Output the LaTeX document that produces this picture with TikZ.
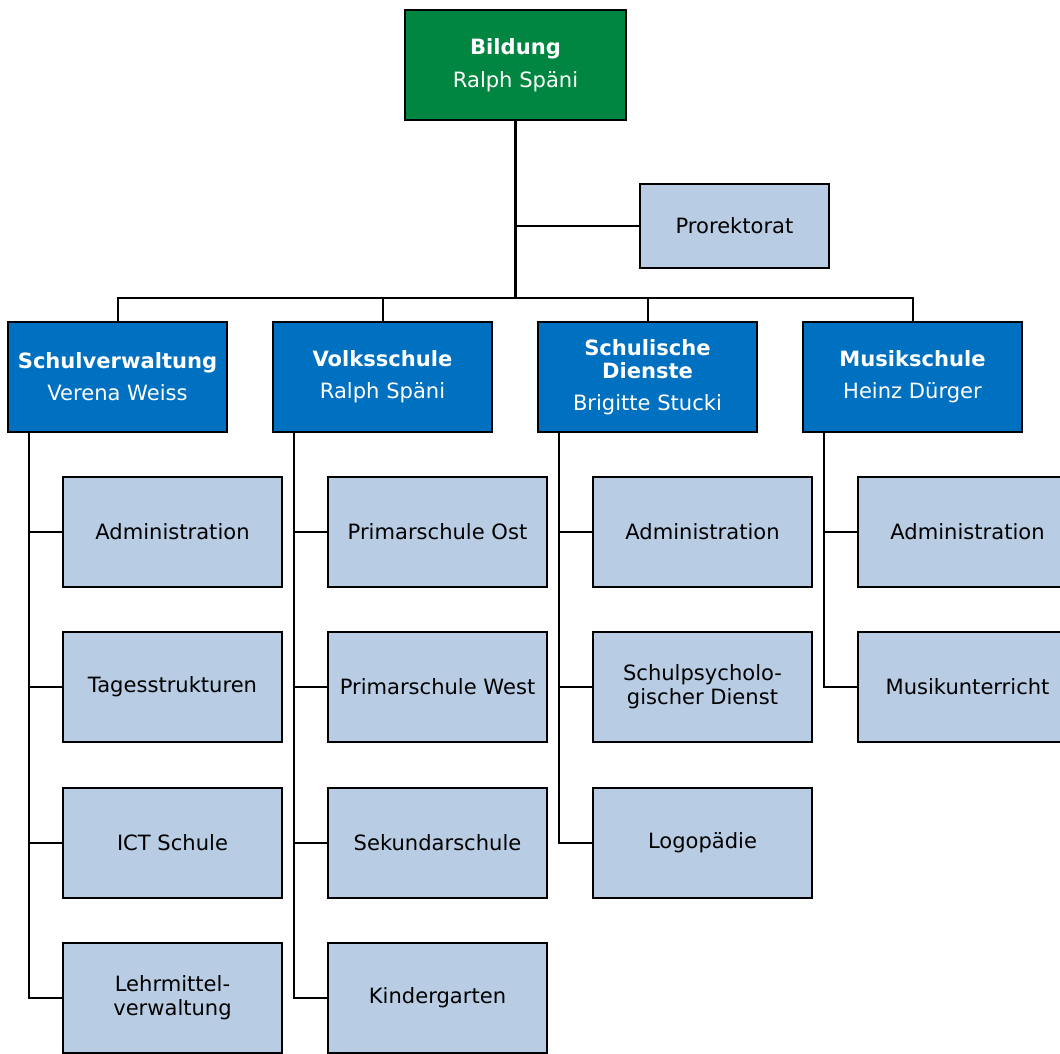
\documentclass[tikz,border=0pt]{standalone}
\usepackage{fontspec}
\setmainfont{DejaVu Sans}
\definecolor{bgreen}{RGB}{0,134,64}
\definecolor{bblue}{RGB}{0,112,192}
\definecolor{blight}{RGB}{184,204,228}
\begin{document}
\begin{tikzpicture}[x=0.75pt,y=-0.75pt,
  box/.style={draw=black,line width=1.5pt,inner sep=0pt,align=center,
    minimum width=164.25pt,minimum height=82.5pt,
    font=\fontsize{15.8}{17.8}\selectfont},
  topbox/.style={box,fill=bgreen,text=white,minimum width=165.75pt},
  headbox/.style={box,fill=bblue,text=white},
  unitbox/.style={box,fill=blight,text=black},
  conn/.style={draw=black,line width=1.5pt},
  trunk/.style={draw=black,line width=2.2pt}]
\useasboundingbox (0,0) rectangle (1060,1053);
\clip (0,0) rectangle (1060,1053);
% top
\node[topbox] (bild) at (515.5,65) {\textbf{Bildung}\\[7pt]Ralph Späni};
\node[unitbox,minimum width=141.75pt,minimum height=63pt] (pro) at (734.5,226) {Prorektorat};
\coordinate (bus) at (515.5,298);
% heads
\node[headbox] (h1) at (117.5,377) {\textbf{Schulverwaltung}\\[6pt]Verena Weiss};
\node[headbox] (h2) at (382.5,377) {\textbf{Volksschule}\\[6pt]Ralph Späni};
\node[headbox] (h3) at (647.5,377) {\textbf{Schulische}\\\textbf{Dienste}\\[6pt]Brigitte Stucki};
\node[headbox] (h4) at (912.5,377) {\textbf{Musikschule}\\[6pt]Heinz Dürger};
% children
\node[unitbox] (c11) at (172.5,532) {Administration};
\node[unitbox] (c12) at (172.5,687) {Tagesstrukturen};
\node[unitbox] (c13) at (172.5,843) {ICT Schule};
\node[unitbox] (c14) at (172.5,998) {Lehrmittel-\\verwaltung};
\node[unitbox] (c21) at (437.5,532) {Primarschule Ost};
\node[unitbox] (c22) at (437.5,687) {Primarschule West};
\node[unitbox] (c23) at (437.5,843) {Sekundarschule};
\node[unitbox] (c24) at (437.5,998) {Kindergarten};
\node[unitbox] (c31) at (702.5,532) {Administration};
\node[unitbox] (c32) at (702.5,687) {Schulpsycholo-\\gischer Dienst};
\node[unitbox] (c33) at (702.5,843) {Logopädie};
\node[unitbox] (c41) at (967.5,532) {Administration};
\node[unitbox] (c42) at (967.5,687) {Musikunterricht};
% connectors top
\draw[trunk] (bild.south) -- (bus);
\draw[conn] (pro.west) -- (pro.west -| bild.south);
\draw[conn] (h1.north) -- (h1.north |- bus) -- (h4.north |- bus) -- (h4.north);
\foreach \h in {h2,h3} \draw[conn] (\h.north) -- (\h.north |- bus);
% spines
\coordinate (s1) at ([xshift=16.5pt]h1.south west);
\coordinate (s2) at ([xshift=16.5pt]h2.south west);
\coordinate (s3) at ([xshift=16.5pt]h3.south west);
\coordinate (s4) at ([xshift=16.5pt]h4.south west);
\foreach \c in {c11,c12,c13,c14} \draw[conn] (s1) |- (\c.west);
\foreach \c in {c21,c22,c23,c24} \draw[conn] (s2) |- (\c.west);
\foreach \c in {c31,c32,c33} \draw[conn] (s3) |- (\c.west);
\foreach \c in {c41,c42} \draw[conn] (s4) |- (\c.west);
\end{tikzpicture}
\end{document}
